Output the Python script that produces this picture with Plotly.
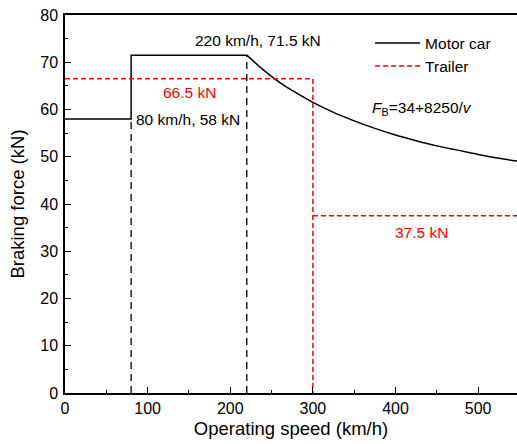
import plotly.graph_objects as go

# Motor car: constant-force steps then hyperbolic part
motor_step_speed = [0, 80, 80, 220]
motor_step_force = [58, 58, 71.5, 71.5]
motor_curve_speed = [220, 240, 260, 280, 300, 325, 350, 375, 400, 425, 450, 475, 500, 525, 550]
motor_curve_force = [71.5, 68.4, 65.7, 63.5, 61.5, 59.4, 57.6, 56.0, 54.6, 53.4, 52.3, 51.4, 50.5, 49.7, 49.0]

# Trailer
trailer_speed = [0, 300, 300]
trailer_force = [66.5, 66.5, 0]
trailer_tail_speed = [300, 550]
trailer_tail_force = [37.5, 37.5]

# Reference verticals
ref_speeds = [80, 220]
ref_tops = [58, 71.5]

# Annotations
ann_text = ["220 km/h, 71.5 kN", "66.5 kN", "80 km/h, 58 kN",
            "<i>F</i><sub>B</sub>=34+8250/<i>v</i>", "37.5 kN"]
ann_x = [234, 151, 149, 432, 432]
ann_y = [74.7, 63.5, 57.8, 60.3, 33.9]
ann_color = ["black", "red", "black", "black", "red"]

FONT = "Liberation Sans, Arial, sans-serif"

fig = go.Figure()
for sx, top in zip(ref_speeds, ref_tops):
    fig.add_trace(go.Scatter(x=[sx, sx], y=[0, top], mode="lines",
                             line=dict(color="black", width=1.3, dash="7px,5px"),
                             showlegend=False, hoverinfo="skip"))
fig.add_trace(go.Scatter(x=motor_step_speed, y=motor_step_force, mode="lines",
                         name="Motor car", line=dict(color="black", width=1.5)))
fig.add_trace(go.Scatter(x=motor_curve_speed, y=motor_curve_force, mode="lines",
                         line=dict(color="black", width=1.5, shape="spline"),
                         showlegend=False))
fig.add_trace(go.Scatter(x=trailer_speed, y=trailer_force, mode="lines",
                         name="Trailer", line=dict(color="red", width=1.5, dash="5px,3px")))
fig.add_trace(go.Scatter(x=trailer_tail_speed, y=trailer_tail_force, mode="lines",
                         line=dict(color="red", width=1.5, dash="5px,3px"),
                         showlegend=False))

for t, x, y, c in zip(ann_text, ann_x, ann_y, ann_color):
    fig.add_annotation(x=x, y=y, text=t, showarrow=False,
                       font=dict(family=FONT, size=15.5, color=c))

fig.update_layout(
    width=517, height=444,
    margin=dict(l=65, r=0, t=15, b=51),
    paper_bgcolor="white", plot_bgcolor="white",
    font=dict(family=FONT, size=16, color="black"),
    legend=dict(x=0.675, y=0.97, xanchor="left", yanchor="top", itemwidth=45,
                bgcolor="rgba(0,0,0,0)", font=dict(size=15.5), tracegroupgap=0),
    xaxis=dict(range=[0, 547], showgrid=False, zeroline=False,
               showline=True, linecolor="black", linewidth=1.5, mirror=True,
               ticks="inside", ticklen=6, tickwidth=1.2, tickcolor="black",
               dtick=100, tickfont=dict(size=16),
               minor=dict(dtick=50, ticks="inside", ticklen=3, tickcolor="black"),
               title=dict(text="Operating speed (km/h)", font=dict(size=18.5), standoff=6)),
    yaxis=dict(range=[0, 80], showgrid=False, zeroline=False,
               showline=True, linecolor="black", linewidth=1.5,
               ticks="inside", ticklen=6, tickwidth=1.2, tickcolor="black",
               dtick=10, tickfont=dict(size=16), ticklabelstandoff=2,
               minor=dict(dtick=5, ticks="inside", ticklen=3, tickcolor="black"),
               title=dict(text="Braking force (kN)", font=dict(size=18.5), standoff=11)),
)

fig.write_html("out.html")
